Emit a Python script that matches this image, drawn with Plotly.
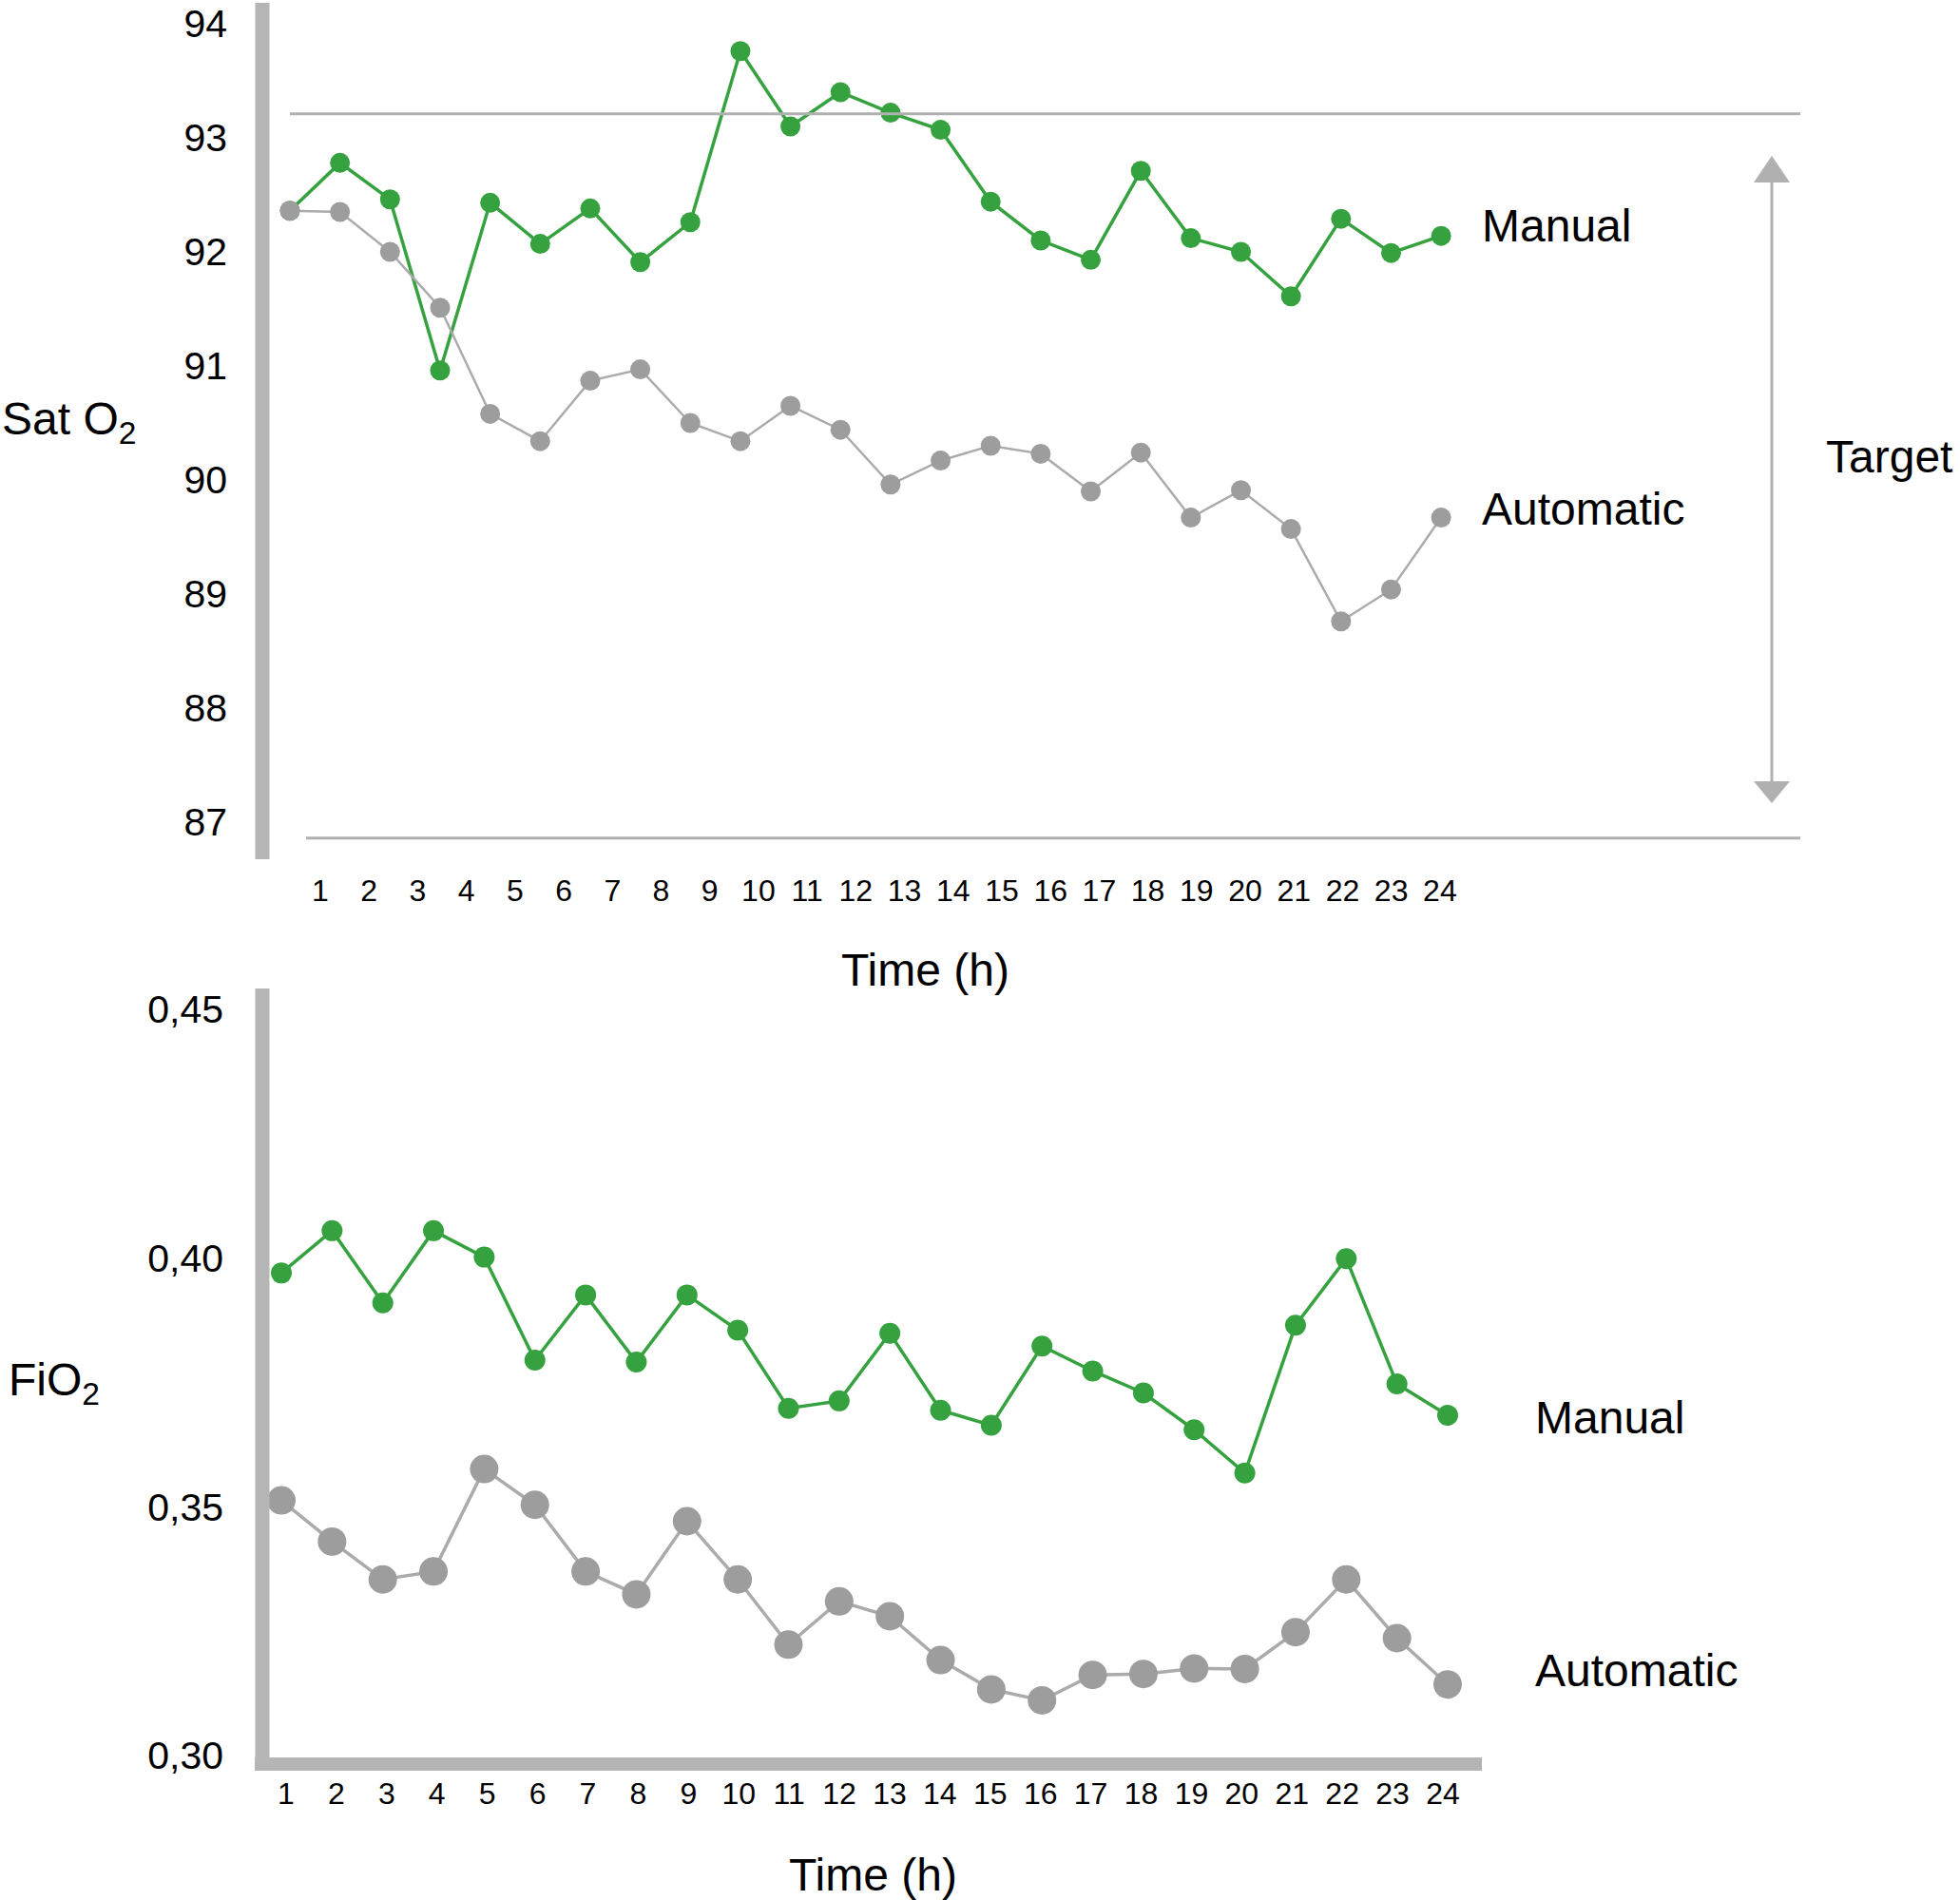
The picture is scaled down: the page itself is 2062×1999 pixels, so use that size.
import plotly.graph_objects as go

W, H = 2062, 1999

hours = list(range(1, 25))
hour_labels = [str(h) for h in hours]

sat_manual = [92.36, 92.78, 92.46, 90.96, 92.43, 92.07, 92.38, 91.91, 92.26, 93.76,
              93.10, 93.40, 93.22, 93.07, 92.44, 92.10, 91.93, 92.71, 92.12, 92.00,
              91.61, 92.29, 91.99, 92.14]
sat_auto = [92.36, 92.35, 92.00, 91.51, 90.58, 90.34, 90.87, 90.97, 90.50, 90.34,
            90.65, 90.44, 89.96, 90.17, 90.30, 90.23, 89.90, 90.24, 89.67, 89.91,
            89.57, 88.76, 89.04, 89.67]
sat_ticks = [87, 88, 89, 90, 91, 92, 93, 94]
target_high = 93.21
target_low = 86.86

fio2_manual = [0.397, 0.4055, 0.391, 0.4055, 0.4002, 0.3795, 0.3926, 0.3791, 0.3926, 0.3855,
               0.3698, 0.3713, 0.3849, 0.3694, 0.3664, 0.3823, 0.3773, 0.3729, 0.3655, 0.3568,
               0.3865, 0.3999, 0.3747, 0.3684]
fio2_auto = [0.3513, 0.3430, 0.3354, 0.3370, 0.3576, 0.3504, 0.3370, 0.3324, 0.3471, 0.3354,
             0.3223, 0.3310, 0.3280, 0.3192, 0.3133, 0.3111, 0.3162, 0.3164, 0.3175, 0.3174,
             0.3248, 0.3354, 0.3236, 0.3143]
fio2_ticks = [0.30, 0.35, 0.40, 0.45]
fio2_ticktext = ["0,30", "0,35", "0,40", "0,45"]

GREEN = "#35a23f"
GRAY_M = "#9d9d9d"
GRAY_L = "#ababab"
AXIS = "#b5b5b5"
FONT = "Liberation Sans, Arial, Helvetica, sans-serif"


def fx(p):
    return p / W


def fy(p):
    return 1 - p / H


fig = go.Figure()

# empty traces so that the tick-label axes form their own subplots
fig.add_trace(go.Scatter(x=[], y=[], xaxis="x", yaxis="y", showlegend=False, hoverinfo="skip"))
fig.add_trace(go.Scatter(x=[], y=[], xaxis="x2", yaxis="y2", showlegend=False, hoverinfo="skip"))

# top panel
fig.add_trace(go.Scatter(x=hours, y=sat_manual, xaxis="x3", yaxis="y", mode="lines+markers",
                         line=dict(color=GREEN, width=3.5), marker=dict(color=GREEN, size=21),
                         showlegend=False, hoverinfo="skip"))
fig.add_trace(go.Scatter(x=hours, y=sat_auto, xaxis="x3", yaxis="y", mode="lines+markers",
                         line=dict(color=GRAY_L, width=2.5), marker=dict(color=GRAY_M, size=21),
                         showlegend=False, hoverinfo="skip"))
# bottom panel
fig.add_trace(go.Scatter(x=hours, y=fio2_manual, xaxis="x4", yaxis="y2", mode="lines+markers",
                         line=dict(color=GREEN, width=3.5), marker=dict(color=GREEN, size=22),
                         showlegend=False, hoverinfo="skip"))
fig.add_trace(go.Scatter(x=hours, y=fio2_auto, xaxis="x4", yaxis="y2", mode="lines+markers",
                         line=dict(color=GRAY_L, width=3.5), marker=dict(color=GRAY_M, size=30),
                         showlegend=False, hoverinfo="skip"))

xtickfont = dict(family=FONT, size=32, color="black")
ytickfont = dict(family=FONT, size=41, color="black")
labfont = dict(family=FONT, size=48, color="black")

top_xdom = [fx(276), fx(1900)]
bot_xdom = [fx(276), fx(1559)]

common = dict(showgrid=False, zeroline=False, showline=False, ticks="", automargin=False)

fig.update_layout(
    template="none",
    width=W, height=H,
    margin=dict(l=0, r=0, t=0, b=0, pad=0),
    paper_bgcolor="white", plot_bgcolor="rgba(0,0,0,0)",
    showlegend=False,
    # top: tick axis
    xaxis=dict(domain=top_xdom, anchor="y", range=[-0.191, 31.52],
               tickmode="array", tickvals=hours, ticktext=hour_labels,
               tickfont=xtickfont, ticklabelstandoff=11, **common),
    xaxis3=dict(domain=top_xdom, overlaying="x", anchor="y", range=[0.449, 31.29],
                showticklabels=False, **common),
    yaxis=dict(domain=[fy(904), fy(3)], anchor="x", range=[86.675, 94.183],
               tickmode="array", tickvals=sat_ticks, ticktext=[str(t) for t in sat_ticks],
               tickfont=ytickfont, ticklabelstandoff=36, **common),
    # bottom: tick axis
    xaxis2=dict(domain=bot_xdom, anchor="y2", range=[0.5275, 24.775],
                tickmode="array", tickvals=hours, ticktext=hour_labels,
                tickfont=xtickfont, ticklabelstandoff=16, **common),
    xaxis4=dict(domain=bot_xdom, overlaying="x2", anchor="y2", range=[0.625, 24.675],
                showticklabels=False, **common),
    yaxis2=dict(domain=[fy(1849), fy(1040)], anchor="x2", range=[0.29962, 0.4542],
                tickmode="array", tickvals=fio2_ticks, ticktext=fio2_ticktext,
                tickfont=ytickfont, ticklabelstandoff=40, **common),
)

shapes = [
    # top axis bar
    dict(type="line", xref="paper", yref="paper", x0=fx(276), x1=fx(276), y0=fy(3), y1=fy(904),
         line=dict(color=AXIS, width=15)),
    # target lines
    dict(type="line", xref="paper", yref="y", x0=fx(305), x1=fx(1894), y0=target_high, y1=target_high,
         line=dict(color="#b0b0b0", width=3)),
    dict(type="line", xref="paper", yref="y", x0=fx(322), x1=fx(1894), y0=target_low, y1=target_low,
         line=dict(color="#b0b0b0", width=3)),
    # target arrow
    dict(type="line", xref="paper", yref="paper", x0=fx(1864), x1=fx(1864), y0=fy(190), y1=fy(824),
         line=dict(color="#b0b0b0", width=3)),
    dict(type="path", xref="paper", yref="paper",
         path=f"M {fx(1864)} {fy(164)} L {fx(1845)} {fy(192)} L {fx(1883)} {fy(192)} Z",
         fillcolor="#b0b0b0", line=dict(width=0)),
    dict(type="path", xref="paper", yref="paper",
         path=f"M {fx(1864)} {fy(845)} L {fx(1845)} {fy(822)} L {fx(1883)} {fy(822)} Z",
         fillcolor="#b0b0b0", line=dict(width=0)),
    # bottom L axis
    dict(type="line", xref="paper", yref="paper", x0=fx(276), x1=fx(276), y0=fy(1040), y1=fy(1863),
         line=dict(color=AXIS, width=15)),
    dict(type="line", xref="paper", yref="paper", x0=fx(268), x1=fx(1559), y0=fy(1856), y1=fy(1856),
         line=dict(color=AXIS, width=14)),
]
fig.update_layout(shapes=shapes)

annotations = [
    dict(text="Sat O<sub>2</sub>", x=fx(0), y=fy(444), xanchor="left", yanchor="middle"),
    dict(text="Manual", x=fx(1557), y=fy(238), xanchor="left", yanchor="middle"),
    dict(text="Automatic", x=fx(1557), y=fy(535), xanchor="left", yanchor="middle"),
    dict(text="Target", x=fx(1919), y=fy(480), xanchor="left", yanchor="middle"),
    dict(text="Time (h)", x=fx(973), y=fy(1020), xanchor="center", yanchor="middle"),
    dict(text="FiO<sub>2</sub>", x=fx(7), y=fy(1455), xanchor="left", yanchor="middle"),
    dict(text="Manual", x=fx(1613), y=fy(1491), xanchor="left", yanchor="middle"),
    dict(text="Automatic", x=fx(1613), y=fy(1757), xanchor="left", yanchor="middle"),
    dict(text="Time (h)", x=fx(918), y=fy(1972), xanchor="center", yanchor="middle"),
]
for a in annotations:
    a.update(xref="paper", yref="paper", showarrow=False, font=labfont)
fig.update_layout(annotations=annotations)

fig.write_html("out.html", config={"displayModeBar": False},
               post_script="document.body.style.margin='0';document.body.style.padding='0';")
